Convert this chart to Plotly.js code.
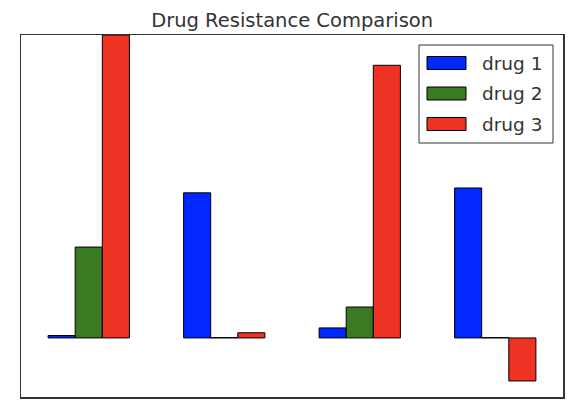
<!DOCTYPE html>
<html>
<head>
<meta charset="utf-8">
<script src="https://cdn.plot.ly/plotly-3.0.1.min.js"></script>
<style>html,body{margin:0;padding:0;background:#fff;}#chart{width:570px;height:402px;}</style>
</head>
<body>
<div id="chart"></div>
<script>
// Data
var groups = [0, 1, 2, 3];
var seriesNames = ["drug 1", "drug 2", "drug 3"];
var drug1 = [0.8, 47.9, 3.3, 49.5];
var drug2 = [30.0, 0.1, 10.2, 0.1];
var drug3 = [100.0, 1.7, 90.0, -14.2];
var seriesValues = [drug1, drug2, drug3];
var seriesColors = ["#0028ff", "#3b7a23", "#ee3224"];

// plot area in pixels (for placing the legend box)
var L = 21, R = 563, T = 35, B = 397;
function px(x) { return (x - L) / (R - L); }
function py(y) { return (B - y) / (B - T); }

var offsets = [0, 0.2, 0.4];
var traces = seriesValues.map(function (vals, i) {
  return {
    type: "bar",
    name: seriesNames[i],
    x: groups,
    y: vals,
    width: 0.2,
    offset: offsets[i],
    showlegend: false,
    marker: { color: seriesColors[i], line: { color: "#000", width: 1 } },
    hoverinfo: "x+y+name"
  };
});

// matplotlib-style legend drawn with shapes and annotations
var shapes = [{
  type: "rect", xref: "paper", yref: "paper",
  x0: px(419), x1: px(553), y0: py(143), y1: py(45),
  fillcolor: "#fff", line: { color: "#333", width: 1 }, layer: "above"
}];
var annotations = [];
seriesNames.forEach(function (name, i) {
  var cy = 63 + 30.5 * i;
  shapes.push({
    type: "rect", xref: "paper", yref: "paper",
    x0: px(427), x1: px(466), y0: py(cy + 6.5), y1: py(cy - 6.5),
    fillcolor: seriesColors[i], line: { color: "#000", width: 1 }, layer: "above"
  });
  annotations.push({
    xref: "paper", yref: "paper", x: px(480), y: py(cy),
    xanchor: "left", yanchor: "middle", showarrow: false,
    text: name, font: { family: "DejaVu Sans", size: 18.5, color: "#333" }
  });
});

var layout = {
  width: 570,
  height: 402,
  margin: { l: L, r: 570 - R, t: T, b: 402 - B },
  paper_bgcolor: "#fff",
  plot_bgcolor: "#fff",
  barmode: "overlay",
  showlegend: false,
  title: {
    text: "Drug Resistance Comparison",
    font: { family: "DejaVu Sans", size: 19.5, color: "#333" },
    x: 0.5125, xanchor: "center",
    yref: "container", y: 1 - 20 / 402, yanchor: "middle"
  },
  xaxis: {
    range: [-0.2, 3.8],
    showticklabels: false, ticks: "", showgrid: false, zeroline: false,
    showline: true, mirror: true, linecolor: "#333", linewidth: 1.5
  },
  yaxis: {
    range: [-19.5, 100],
    showticklabels: false, ticks: "", showgrid: false, zeroline: false,
    showline: true, mirror: true, linecolor: "#333", linewidth: 1.5
  },
  shapes: shapes,
  annotations: annotations
};

Plotly.newPlot("chart", traces, layout, { displayModeBar: false, staticPlot: true });
</script>
</body>
</html>
